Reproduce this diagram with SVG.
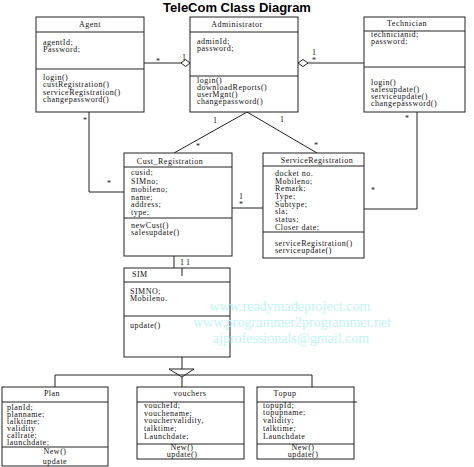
<svg xmlns="http://www.w3.org/2000/svg" width="474" height="467" viewBox="0 0 474 467">
<style>
.box{fill:#fff;stroke:#222;stroke-width:1}
.ln{fill:none;stroke:#222;stroke-width:1}
.t{font-family:"Liberation Serif","Times New Roman",serif;font-size:8px;letter-spacing:0.5px;fill:#111}
.c{text-anchor:middle}
.m{font-family:"Liberation Serif","Times New Roman",serif;font-size:8px;fill:#111}
.wm{font-family:"Liberation Serif","Times New Roman",serif;font-size:14px;fill:#c0f6f6;text-anchor:middle}
.dia{fill:#fff;stroke:#222;stroke-width:1}
</style>
<rect width="474" height="467" fill="#fff"/>
<text x="237" y="12" font-family="Liberation Sans, Arial, sans-serif" font-size="13" font-weight="bold" text-anchor="middle" fill="#000">TeleCom Class Diagram</text>

<g id="connectors">
<line class="ln" x1="144" y1="63" x2="181" y2="63"/>
<polygon class="dia" points="181,63 185.5,59.5 190,63 185.5,66.5"/>
<line class="ln" x1="308" y1="63" x2="364" y2="63"/>
<polygon class="dia" points="298,63 303,59.5 308,63 303,66.5"/>
<polyline class="ln" points="89,112 89,192 124,192"/>
<polyline class="ln" points="174,153 247,112 317,153"/>
<line class="ln" x1="232" y1="208" x2="263" y2="208"/>
<polyline class="ln" points="417,112 417,209 364,209"/>
<line class="ln" x1="174" y1="256" x2="174" y2="268"/>
<line class="ln" x1="182" y1="357" x2="182" y2="369"/>
<polygon class="dia" points="169,369 194,369 182,377"/>
<polyline class="ln" points="55,387 55,375 312,375 312,387"/>
<line class="ln" x1="182" y1="377" x2="182" y2="387"/>
<text class="m" x="156" y="64">*</text>
<text class="m" x="182" y="60">1</text>
<text class="m" x="312" y="55">1</text>
<text class="m" x="312" y="63">*</text>
<text class="m" x="83" y="123">*</text>
<text class="m" x="107" y="186">*</text>
<text class="m" x="213" y="123">1</text>
<text class="m" x="196" y="149">*</text>
<text class="m" x="280" y="122">1</text>
<text class="m" x="314" y="148">*</text>
<text class="m" x="239" y="199">1</text>
<text class="m" x="239" y="207">*</text>
<text class="m" x="405" y="121">*</text>
<text class="m" x="371" y="193">*</text>
<text class="m" x="180" y="265">1 1</text>
</g>

<g id="agent">
<rect class="box" x="36" y="17" width="108" height="95"/>
<line class="ln" x1="36" y1="32" x2="144" y2="32"/>
<line class="ln" x1="36" y1="69" x2="144" y2="69"/>
<text class="t c" x="90" y="27">Agent</text>
<text class="t" x="43" y="45">agentId;</text>
<text class="t" x="43" y="52">Password;</text>
<text class="t" x="43" y="80">login()</text>
<text class="t" x="43" y="87">custRegistration()</text>
<text class="t" x="43" y="95">serviceRegistration()</text>
<text class="t" x="43" y="102">changepassword()</text>
</g>

<g id="administrator">
<rect class="box" x="190" y="17" width="108" height="95"/>
<line class="ln" x1="190" y1="32" x2="298" y2="32"/>
<line class="ln" x1="190" y1="76" x2="298" y2="76"/>
<text class="t c" x="237" y="27">Administrator</text>
<text class="t" x="197" y="44">adminId;</text>
<text class="t" x="197" y="51">password;</text>
<text class="t" x="197" y="83">login()</text>
<text class="t" x="197" y="90">downloadReports()</text>
<text class="t" x="197" y="97">userMgnt()</text>
<text class="t" x="197" y="104">changepassword()</text>
</g>

<g id="technician">
<rect class="box" x="364" y="17" width="101" height="95"/>
<line class="ln" x1="364" y1="31" x2="465" y2="31"/>
<line class="ln" x1="364" y1="67" x2="465" y2="67"/>
<text class="t c" x="407" y="26">Technician</text>
<text class="t" x="371" y="37">technicianid;</text>
<text class="t" x="371" y="44">password;</text>
<text class="t" x="371" y="85">login()</text>
<text class="t" x="371" y="92">salesupdate()</text>
<text class="t" x="371" y="99">serviceupdate()</text>
<text class="t" x="371" y="106">changepassword()</text>
</g>

<g id="cust_registration">
<rect class="box" x="124" y="153" width="108" height="103"/>
<line class="ln" x1="124" y1="167" x2="232" y2="167"/>
<line class="ln" x1="124" y1="218" x2="232" y2="218"/>
<text class="t c" x="170" y="164">Cust_Registration</text>
<text class="t" x="131" y="175">cusid;</text>
<text class="t" x="131" y="184">SIMno;</text>
<text class="t" x="131" y="192">mobileno;</text>
<text class="t" x="131" y="200">name;</text>
<text class="t" x="131" y="207">address;</text>
<text class="t" x="131" y="215">type;</text>
<text class="t" x="131" y="228">newCust()</text>
<text class="t" x="131" y="235">salesupdate()</text>
</g>

<g id="service_registration">
<rect class="box" x="263" y="153" width="101" height="105"/>
<line class="ln" x1="263" y1="166" x2="364" y2="166"/>
<line class="ln" x1="263" y1="232" x2="364" y2="232"/>
<text class="t c" x="317" y="163">ServiceRegistration</text>
<text class="t" x="275" y="176">docket no.</text>
<text class="t" x="275" y="184">Mobileno;</text>
<text class="t" x="275" y="191">Remark;</text>
<text class="t" x="275" y="199">Type;</text>
<text class="t" x="275" y="207">Subtype;</text>
<text class="t" x="275" y="214">sla;</text>
<text class="t" x="275" y="222">status;</text>
<text class="t" x="275" y="230">Closer date;</text>
<text class="t" x="275" y="246">serviceRegistration()</text>
<text class="t" x="275" y="253">serviceupdate()</text>
</g>

<g id="sim">
<rect class="box" x="124" y="268" width="106" height="89"/>
<line class="ln" x1="124" y1="282" x2="230" y2="282"/>
<line class="ln" x1="124" y1="316" x2="230" y2="316"/>
<line class="ln" x1="182" y1="268" x2="182" y2="276"/>
<text class="t" x="132" y="277">SIM</text>
<text class="t" x="130" y="294">SIMNO;</text>
<text class="t" x="130" y="301">Mobileno.</text>
<text class="t" x="130" y="328">update()</text>
</g>

<g id="plan">
<rect class="box" x="2" y="387" width="106" height="79"/>
<line class="ln" x1="2" y1="402" x2="108" y2="402"/>
<line class="ln" x1="2" y1="447" x2="108" y2="447"/>
<text class="t c" x="52" y="396">Plan</text>
<text class="t" x="7" y="410">planId;</text>
<text class="t" x="7" y="417">planname;</text>
<text class="t" x="7" y="424">talktime;</text>
<text class="t" x="7" y="431">validity</text>
<text class="t" x="7" y="438">callrate;</text>
<text class="t" x="7" y="445">launchdate;</text>
<text class="t c" x="55" y="454">New()</text>
<text class="t c" x="55" y="464">update</text>
</g>

<g id="vouchers">
<rect class="box" x="137" y="387" width="107" height="72"/>
<line class="ln" x1="137" y1="402" x2="244" y2="402"/>
<line class="ln" x1="137" y1="444" x2="244" y2="444"/>
<text class="t c" x="190" y="396">vouchers</text>
<text class="t" x="144" y="408">voucheId;</text>
<text class="t" x="144" y="416">vouchename;</text>
<text class="t" x="144" y="423">vouchervalidity,</text>
<text class="t" x="144" y="431">talktime;</text>
<text class="t" x="144" y="439">Launchdate;</text>
<text class="t c" x="182" y="450">New()</text>
<text class="t c" x="182" y="457">update()</text>
</g>

<g id="topup">
<rect class="box" x="257" y="387" width="97" height="72"/>
<line class="ln" x1="257" y1="402" x2="357" y2="402"/>
<line class="ln" x1="257" y1="444" x2="354" y2="444"/>
<text class="t c" x="285" y="396">Topup</text>
<text class="t" x="263" y="408">topupId;</text>
<text class="t" x="263" y="415">topupname;</text>
<text class="t" x="263" y="423">validity;</text>
<text class="t" x="263" y="431">talktime;</text>
<text class="t" x="263" y="439">Launchdate</text>
<text class="t c" x="303" y="450">New()</text>
<text class="t c" x="303" y="457">update()</text>
</g>

<g id="watermark">
<text class="wm" x="290" y="311">www.readymadeproject.com</text>
<text class="wm" x="292" y="327">www.programmer2programmer.net</text>
<text class="wm" x="291" y="343">ajprofessionals@gmail.com</text>
</g>
</svg>
